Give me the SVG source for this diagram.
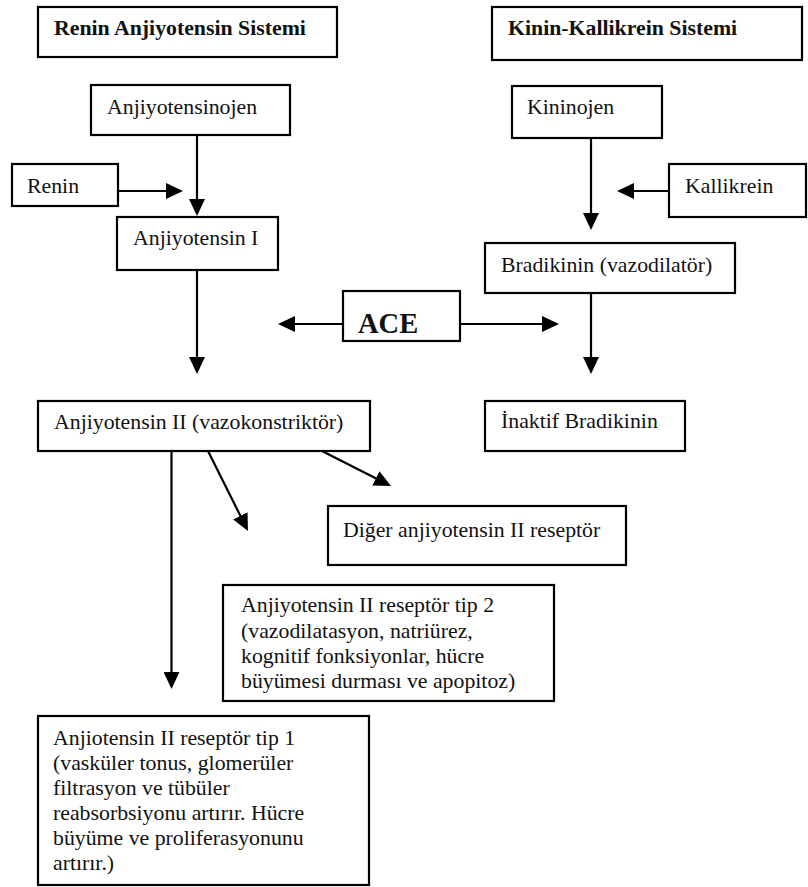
<svg xmlns="http://www.w3.org/2000/svg" width="808" height="887" viewBox="0 0 808 887">
<style>
rect.box{fill:#fff;stroke:#000;stroke-width:2.2}
text{font-family:"Liberation Serif","Times New Roman",serif;font-size:21.8px;fill:#111}
text.b{font-weight:bold}
text.ace{font-weight:bold;font-size:28.5px}
.con line{stroke:#000;stroke-width:2.2;marker-end:url(#ah)}
</style>
<defs>
<marker id="ah" viewBox="0 0 17 16" refX="7" refY="8" markerWidth="17" markerHeight="16" markerUnits="userSpaceOnUse" orient="auto">
<path d="M0,0 L17,8 L0,16 z" fill="#000"/>
</marker>
</defs>
<rect width="808" height="887" fill="#fff"/>
<g id="title-ras"><rect class="box" x="38" y="7" width="299" height="50"/><text class="b" x="54" y="35">Renin Anjiyotensin Sistemi</text></g>
<g id="title-kks"><rect class="box" x="492" y="7" width="310" height="53"/><text class="b" x="508" y="35">Kinin-Kallikrein Sistemi</text></g>
<g id="anjiyotensinojen"><rect class="box" x="91" y="85" width="199" height="50"/><text x="107" y="114">Anjiyotensinojen</text></g>
<g id="renin"><rect class="box" x="12" y="164" width="106" height="42"/><text x="27" y="193">Renin</text></g>
<g id="anj1"><rect class="box" x="117" y="217" width="161" height="53"/><text x="133" y="245">Anjiyotensin I</text></g>
<g id="kininojen"><rect class="box" x="512" y="86" width="150" height="52"/><text x="527" y="114">Kininojen</text></g>
<g id="kallikrein"><rect class="box" x="669" y="164" width="137" height="53"/><text x="685" y="193">Kallikrein</text></g>
<g id="bradikinin"><rect class="box" x="485" y="243" width="250" height="50"/><text x="501" y="272">Bradikinin (vazodilatör)</text></g>
<g id="ace"><rect class="box" x="343" y="291" width="117" height="50"/><text class="ace" x="358" y="333">ACE</text></g>
<g id="anj2"><rect class="box" x="38" y="401" width="332" height="50"/><text x="54" y="429">Anjiyotensin II (vazokonstriktör)</text></g>
<g id="inaktif"><rect class="box" x="485" y="401" width="200" height="50"/><text x="501" y="428">İnaktif Bradikinin</text></g>
<g id="diger"><rect class="box" x="328" y="506" width="298" height="59"/><text x="343" y="537">Diğer anjiyotensin II reseptör</text></g>
<g id="tip2"><rect class="box" x="223" y="585" width="331" height="116"/>
<text x="241" y="612">Anjiyotensin II reseptör tip 2</text>
<text x="241" y="638">(vazodilatasyon, natriürez,</text>
<text x="241" y="663">kognitif fonksiyonlar, hücre</text>
<text x="241" y="688">büyümesi durması ve apopitoz)</text></g>
<g id="tip1"><rect class="box" x="38" y="716" width="331" height="169"/>
<text x="53" y="745">Anjiotensin II reseptör tip 1</text>
<text x="53" y="770">(vasküler tonus, glomerüler</text>
<text x="53" y="795">filtrasyon ve tübüler</text>
<text x="53" y="820">reabsorbsiyonu artırır. Hücre</text>
<text x="53" y="845">büyüme ve proliferasyonunu</text>
<text x="53" y="870">artırır.)</text></g>
<g id="connectors" class="con">
<line x1="197" y1="135" x2="197" y2="206"/>
<line x1="118" y1="191" x2="173" y2="191"/>
<line x1="197" y1="270" x2="197" y2="364"/>
<line x1="343" y1="324" x2="288" y2="324"/>
<line x1="460" y1="324" x2="549" y2="324"/>
<line x1="591" y1="138" x2="591" y2="220"/>
<line x1="669" y1="191" x2="627" y2="191"/>
<line x1="591" y1="293" x2="591" y2="364"/>
<line x1="171.5" y1="451" x2="171.5" y2="679"/>
<line x1="208" y1="451" x2="243.5" y2="522.1"/>
<line x1="322" y1="451" x2="382.1" y2="481.5"/>
</g>
</svg>
